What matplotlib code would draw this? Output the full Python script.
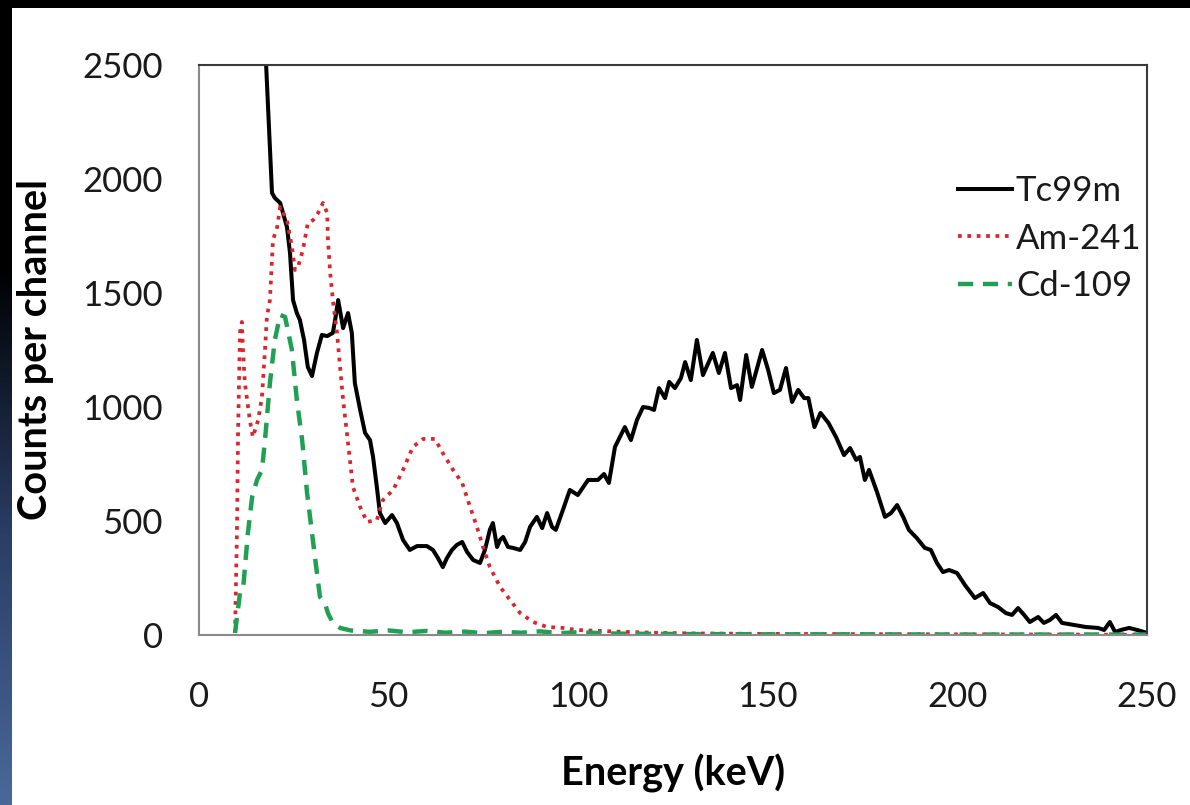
import numpy as np
import matplotlib
matplotlib.use("Agg")
import matplotlib.pyplot as plt
from matplotlib.colors import LinearSegmentedColormap

plt.rcParams['font.family'] = ['Lato', 'DejaVu Sans']

# ---------------- data ----------------
tc_energy = [16.8, 17.7, 19.25, 20.0, 21.4, 23.2, 24.0, 24.8, 25.8, 26.6, 27.7, 28.7, 29.8, 31.1, 32.4,
             33.8, 35.3, 35.9, 36.7, 38.0, 39.3, 40.3, 41.1, 42.5, 43.8, 45.1, 45.9, 46.9, 47.7, 49.1,
             50.9, 52.2, 53.8, 55.6, 57.5, 60.1, 61.7, 63.0, 64.3, 65.4, 66.7, 68.0, 69.4, 70.7, 72.3,
             74.1, 75.4, 76.7, 77.5, 78.6, 79.4, 80.2, 81.5, 82.8, 84.7, 86.0, 87.3, 89.1, 90.5, 91.8,
             93.1, 94.1, 96.0, 97.8, 99.9, 102.6, 105.2, 106.8, 108.1, 109.7, 112.3, 113.9, 115.5, 117.1,
             118.7, 120.0, 121.3, 122.9, 124.0, 125.5, 127.1, 128.2, 129.7, 131.3, 132.9, 135.5, 137.1,
             138.7, 140.3, 141.9, 142.7, 144.3, 145.8, 148.5, 150.1, 151.6, 153.2, 154.8, 156.4, 158.0,
             159.6, 160.7, 162.3, 163.9, 166.0, 168.0, 170.1, 171.7, 173.3, 174.3, 175.6, 176.7, 178.8,
             180.9, 182.5, 184.1, 185.7, 187.2, 189.3, 191.4, 193.0, 194.6, 196.2, 197.8, 199.9, 202.0,
             204.6, 206.8, 208.6, 210.7, 212.8, 214.4, 216.0, 217.6, 219.1, 221.3, 222.8, 224.4, 226.0,
             227.6, 230.7, 233.9, 237.1, 238.7, 240.2, 241.6, 243.1, 245.3, 247.4, 250.0]
tc_counts = [4500, 2500, 1939, 1917, 1895, 1789, 1675, 1469, 1412, 1382, 1294, 1175, 1136, 1237, 1316,
             1311, 1325, 1382, 1469, 1346, 1412, 1325, 1105, 987, 886, 855, 781, 649, 535, 491,
             526, 491, 417, 373, 390, 390, 373, 338, 298, 338, 373, 395, 408, 364, 329,
             316, 373, 461, 491, 386, 417, 430, 386, 382, 373, 408, 474, 518, 469, 535,
             474, 461, 550, 636, 614, 680, 680, 706, 667, 825, 912, 855, 943, 1000,
             996, 987, 1083, 1039, 1110, 1083, 1127, 1197, 1118, 1294, 1140, 1237, 1149,
             1237, 1083, 1096, 1031, 1228, 1088, 1250, 1162, 1061, 1075, 1171, 1022, 1075,
             1039, 1039, 912, 974, 930, 868, 789, 820, 768, 781, 680, 724, 627,
             518, 535, 570, 518, 461, 425, 382, 373, 316, 276, 285, 272, 219,
             162, 184, 140, 123, 96, 88, 118, 88, 57, 79, 53, 66, 88,
             53, 44, 35, 31, 22, 57, 13, 22, 31, 22, 9]

am_energy = [9.5, 10.0, 10.3, 10.8, 11.3, 11.6, 12.1, 13.4, 14.2, 15.6, 16.6, 17.4, 17.9, 18.7, 19.5,
             20.6, 21.4, 23.2, 24.5, 25.3, 26.1, 27.4, 28.7, 30.1, 31.4, 32.7, 33.8, 34.0, 34.6, 35.3,
             36.4, 37.2, 38.0, 39.0, 39.8, 40.6, 42.5, 44.3, 46.9, 48.5, 51.2, 53.8, 56.4, 59.1, 62.2,
             64.3, 67.0, 69.4, 71.5, 73.3, 74.9, 76.7, 79.4, 82.0, 84.7, 88.1, 91.8, 96.0, 99.7,
             110, 120, 130, 150, 175, 200, 225, 250]
am_counts = [9, 447, 886, 1325, 1373, 1250, 1105, 943, 868, 943, 1044, 1250, 1395, 1469, 1732,
             1789, 1877, 1820, 1702, 1601, 1614, 1689, 1807, 1820, 1851, 1895, 1851, 1732, 1588, 1469,
             1325, 1175, 1031, 886, 768, 649, 561, 496, 504, 592, 636, 724, 825, 860, 860,
             798, 724, 667, 561, 474, 386, 298, 211, 154, 96, 57, 35, 31, 22,
             15, 10, 7, 5, 4, 3, 2, 1]

cd_energy = [9.5, 10.8, 11.6, 12.9, 14.0, 15.3, 16.6, 17.4, 18.7, 20.0, 21.4, 22.7, 24.5, 25.8, 27.2,
             28.5, 29.8, 31.1, 31.9, 33.2, 34.0, 35.3, 37.2, 40, 45, 50, 55, 60, 65, 70, 75, 80, 85,
             90, 95, 100, 110, 120, 130, 150, 175, 200, 225, 250]
cd_counts = [9, 184, 197, 447, 605, 680, 724, 855, 1105, 1294, 1404, 1395, 1250, 1031, 855,
             623, 447, 272, 167, 140, 96, 53, 31, 20, 14, 20, 12, 18, 10, 15, 8, 14, 10,
             16, 8, 12, 6, 5, 4, 3, 3, 2, 2, 2]

series_labels = ['Tc99m', 'Am-241', 'Cd-109']
x_ticks = [0, 50, 100, 150, 200, 250]
y_ticks = [0, 500, 1000, 1500, 2000, 2500]

# ---------------- figure ----------------
W, H = 1190, 805
fig = plt.figure(figsize=(W / 100, H / 100), dpi=100, facecolor='white')

# background frame: black top strip, dark->blue gradient left strip
bg = fig.add_axes([0, 0, 1, 1], zorder=-5)
bg.axis('off')
bg.add_patch(plt.Rectangle((0, H - 8), W, 8, color='black', lw=0))
cmap = LinearSegmentedColormap.from_list('edge', ['#4a6898', '#2a3e66', '#000000', '#000000'])
grad = np.linspace(0, 1, 256).reshape(-1, 1)
bg.imshow(grad, extent=(0, 12, 0, H), aspect='auto', cmap=cmap, origin='lower', zorder=1)
bg.set_xlim(0, W)
bg.set_ylim(0, H)

ax = fig.add_axes([199 / W, 1 - 635 / H, (1147 - 199) / W, (635 - 65) / H])
ax.set_facecolor('white')

ax.plot(tc_energy, tc_counts, color='black', lw=2.9, label=series_labels[0], solid_joinstyle='round')
ax.plot(am_energy, am_counts, color='#d7282f', lw=2.7, linestyle=(0, (1, 1.5)), label=series_labels[1])
ax.plot(cd_energy, cd_counts, color='#1fa055', lw=3.2, linestyle=(0, (3.4, 2.2)), label=series_labels[2])

ax.set_xlim(0, 250)
ax.set_ylim(0, 2500)
ax.set_xticks(x_ticks)
ax.set_yticks(y_ticks)
ax.tick_params(axis='both', length=0, labelsize=25, labelcolor='#1a1a1a')
ax.tick_params(axis='x', pad=33)
ax.tick_params(axis='y', pad=26)

for s in ['left', 'bottom']:
    ax.spines[s].set_color('#8a8a8a')
    ax.spines[s].set_linewidth(1.5)
for s in ['top', 'right']:
    ax.spines[s].set_color('#3a3a3a')
    ax.spines[s].set_linewidth(1.5)

fig.text(673 / W, 1 - 773 / H, 'Energy (keV)', ha='center', va='center',
         fontsize=28.5, fontweight='bold', color='black')
fig.text(36 / W, 1 - 350 / H, 'Counts per channel', ha='center', va='center', rotation=90,
         fontsize=28.5, fontweight='bold', color='black')

leg = ax.legend(loc='upper left', bbox_to_anchor=(958 / W, 1 - 175 / H), bbox_transform=fig.transFigure,
                frameon=False, fontsize=25, handlelength=1.55, handletextpad=0.12,
                labelspacing=0.45, borderpad=0, borderaxespad=0)
for t in leg.get_texts():
    t.set_color('#1a1a1a')

fig.savefig('out.png', dpi=100, facecolor='white')
